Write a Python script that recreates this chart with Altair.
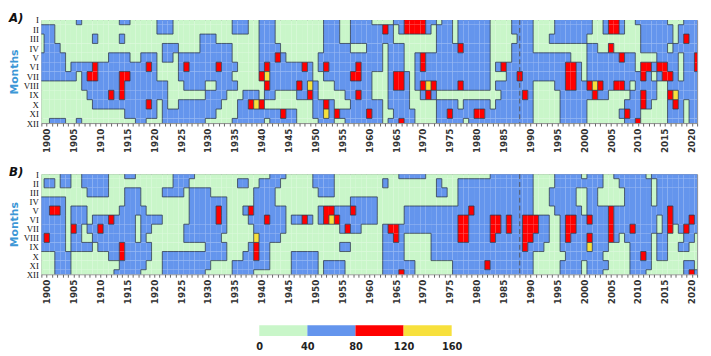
import altair as alt
import pandas as pd

YEAR_START, YEAR_END = 1899, 2021
MONTHS = ["I", "II", "III", "IV", "V", "VI", "VII", "VIII", "IX", "X", "XI", "XII"]
LEVEL_COLORS = ["#c9f6c9", "#6495ed", "#ff0000", "#f7e03c"]
LEGEND_BREAKS = [0, 40, 80, 120, 160]
CHANGE_YEAR = 1988

# ---- Panel A: class segments per month (I..XII), (first year, last year)
A_BLUE = [
    [(1906, 1906), (1914, 1915), (1921, 1923), (1935, 1937), (1940, 1942), (1952, 1954), (1957, 1960), (1965, 1972), (1974, 1975), (1977, 1982), (1987, 1990), (1995, 2001), (2004, 2007), (2010, 2015), (2019, 2021)],
    [(1899, 1901), (1921, 1923), (1935, 1937), (1940, 1942), (1952, 1954), (1957, 1964), (1966, 1971), (1973, 1975), (1977, 1982), (1987, 1990), (1995, 2001), (2004, 2007), (2011, 2016), (2018, 2021)],
    [(1900, 1901), (1909, 1909), (1914, 1914), (1929, 1931), (1940, 1942), (1952, 1954), (1957, 1964), (1973, 1975), (1977, 1982), (1988, 1990), (1994, 2000), (2011, 2016), (2018, 2021)],
    [(1900, 1902), (1922, 1924), (1929, 1934), (1940, 1943), (1952, 1956), (1960, 1962), (1964, 1966), (1973, 1982), (1987, 1990), (2001, 2002), (2011, 2015), (2017, 2021)],
    [(1899, 1903), (1912, 1915), (1918, 1920), (1922, 1923), (1925, 1934), (1940, 1944), (1951, 1962), (1964, 1966), (1969, 1982), (1987, 1997), (2001, 2009), (2014, 2017), (2019, 2021)],
    [(1899, 1903), (1905, 1906), (1907, 1920), (1925, 1935), (1940, 1945), (1946, 1949), (1951, 1962), (1964, 1966), (1969, 1982), (1984, 1999), (2001, 2009), (2011, 2017), (2019, 2021)],
    [(1899, 1905), (1907, 1920), (1925, 1934), (1940, 1949), (1952, 1960), (1964, 1967), (1969, 1982), (1986, 1999), (2001, 2012), (2014, 2017), (2019, 2021)],
    [(1907, 1922), (1926, 1929), (1932, 1935), (1941, 1950), (1954, 1960), (1964, 1967), (1969, 1982), (1984, 1990), (1995, 2008), (2010, 2013), (2016, 2021)],
    [(1908, 1922), (1930, 1933), (1937, 1939), (1941, 1942), (1947, 1950), (1956, 1960), (1964, 1967), (1970, 1972), (1985, 1990), (1996, 2004), (2009, 2013), (2016, 2021)],
    [(1909, 1920), (1922, 1922), (1925, 1932), (1936, 1940), (1950, 1953), (1957, 1962), (1964, 1967), (1973, 1976), (1978, 1982), (1984, 1990), (1996, 2000), (2008, 2012), (2016, 2018), (2020, 2021)],
    [(1915, 1920), (1922, 1931), (1936, 1946), (1950, 1962), (1965, 1968), (1973, 1977), (1978, 1990), (1996, 2000), (2007, 2010), (2016, 2018), (2020, 2021)],
    [(1901, 1903), (1906, 1906), (1917, 1918), (1922, 1929), (1935, 1940), (1942, 1946), (1951, 1953), (1956, 1962), (1964, 1968), (1973, 1977), (1979, 1990), (1996, 2000), (2008, 2010), (2016, 2018), (2020, 2021)],
]
A_RED = [
    [(1967, 1970), (2005, 2006)],
    [(1963, 1963), (1967, 1970), (2005, 2006)],
    [(2019, 2019)],
    [(1977, 1977), (2005, 2005)],
    [(1943, 1943), (1970, 1970), (2007, 2007), (2021, 2021)],
    [(1909, 1909), (1919, 1919), (1926, 1926), (1932, 1932), (1941, 1941), (1948, 1948), (1952, 1952), (1958, 1958), (1970, 1970), (1985, 1985), (1997, 1998), (2011, 2012), (2014, 2015), (2021, 2021)],
    [(1908, 1909), (1914, 1915), (1940, 1941), (1957, 1958), (1965, 1966), (1988, 1988), (1997, 1998), (2011, 2011), (2015, 2016)],
    [(1914, 1914), (1941, 1941), (1947, 1947), (1949, 1949), (1965, 1966), (1970, 1972), (1977, 1977), (1997, 1998), (2001, 2003), (2006, 2007)],
    [(1912, 1912), (1914, 1914), (1949, 1949), (1958, 1958), (1971, 1971), (1989, 1989), (2002, 2002), (2011, 2011), (2016, 2017)],
    [(1919, 1919), (1938, 1938), (1940, 1940), (1952, 1952), (2011, 2011), (2017, 2017)],
    [(1944, 1944), (1952, 1952), (1954, 1954), (1960, 1960), (1975, 1975), (1980, 1981), (2008, 2008)],
    [(1966, 1966), (2010, 2010)],
]
A_YELLOW = [
    [], [], [], [], [], [],
    [(1941, 1941)],
    [(1949, 1949), (1971, 1971), (2002, 2002)],
    [(2017, 2017)],
    [(1939, 1939)],
    [(1952, 1952)],
    [],
]

# ---- Panel B
B_BLUE = [
    [(1903, 1904), (1907, 1911), (1915, 1916), (1924, 1927), (1942, 1944), (1950, 1953), (1966, 1970), (1983, 1990), (1995, 1999), (2001, 2003), (2006, 2011), (2013, 2021)],
    [(1900, 1901), (1903, 1904), (1907, 1911), (1924, 1926), (1936, 1937), (1940, 1943), (1950, 1953), (1963, 1963), (1973, 1973), (1977, 1990), (1995, 2000), (2001, 2003), (2007, 2012), (2014, 2021)],
    [(1908, 1911), (1915, 1917), (1922, 1925), (1927, 1930), (1939, 1942), (1951, 1953), (1973, 1974), (1977, 1990), (1994, 1998), (2001, 2002), (2008, 2012), (2014, 2021)],
    [(1899, 1903), (1915, 1917), (1927, 1933), (1939, 1942), (1957, 1961), (1977, 1990), (1994, 1998), (2001, 2002), (2008, 2012), (2014, 2021)],
    [(1899, 1903), (1905, 1907), (1914, 1918), (1927, 1933), (1937, 1944), (1951, 1961), (1967, 1990), (1995, 1999), (2001, 2007), (2008, 2013), (2014, 2021)],
    [(1899, 1903), (1905, 1907), (1909, 1916), (1918, 1921), (1927, 1933), (1938, 1944), (1946, 1949), (1951, 1961), (1967, 1993), (1996, 2007), (2008, 2013), (2015, 2021)],
    [(1899, 1903), (1905, 1906), (1908, 1916), (1918, 1919), (1926, 1933), (1939, 1944), (1955, 1958), (1963, 1993), (1996, 2007), (2008, 2013), (2015, 2016), (2018, 2021)],
    [(1899, 1903), (1905, 1906), (1909, 1916), (1918, 1918), (1926, 1932), (1939, 1943), (1963, 1966), (1972, 1993), (1996, 2006), (2008, 2012), (2014, 2015), (2019, 2020)],
    [(1899, 1903), (1905, 1908), (1910, 1919), (1930, 1933), (1938, 1941), (1955, 1956), (1963, 1966), (1972, 1992), (1996, 2004), (2009, 2012), (2014, 2015), (2018, 2019)],
    [(1902, 1904), (1912, 1919), (1922, 1933), (1937, 1941), (1946, 1950), (1963, 1966), (1972, 1990), (1997, 2003), (2009, 2012), (2014, 2015)],
    [(1902, 1904), (1914, 1918), (1922, 1930), (1935, 1941), (1946, 1950), (1952, 1955), (1963, 1968), (1976, 1990), (1996, 1999), (2001, 2004), (2009, 2012), (2019, 2020)],
    [(1902, 1904), (1913, 1917), (1922, 1929), (1935, 1938), (1946, 1950), (1952, 1955), (1963, 1968), (1976, 1990), (1996, 1999), (2001, 2003), (2009, 2011), (2019, 2021)],
]
B_RED = [
    [], [], [], [],
    [(1901, 1902), (1932, 1932), (1938, 1938), (1952, 1953), (1957, 1957), (1979, 1979), (2005, 2005), (2016, 2016)],
    [(1912, 1912), (1932, 1932), (1941, 1941), (1948, 1948), (1952, 1954), (1977, 1978), (1983, 1984), (1986, 1986), (1989, 1991), (1997, 1998), (2001, 2001), (2005, 2005), (2016, 2016), (2020, 2020)],
    [(1905, 1905), (1910, 1910), (1956, 1956), (1964, 1965), (1977, 1978), (1983, 1984), (1986, 1986), (1989, 1991), (1997, 1998), (2005, 2005), (2009, 2009), (2016, 2016), (2019, 2019)],
    [(1900, 1900), (1965, 1965), (1977, 1978), (1983, 1983), (1989, 1990), (1997, 1997), (2001, 2001), (2005, 2005)],
    [(1914, 1914), (1939, 1939), (1989, 1989)],
    [(1914, 1914), (1939, 1939), (2011, 2011)],
    [(1982, 1982)],
    [(1966, 1966), (2020, 2020)],
]
B_YELLOW = [
    [], [], [], [], [],
    [(1953, 1953)],
    [],
    [(1939, 1939)],
    [(2001, 2001)],
    [], [], [],
]


def level_grid(blue, red, yellow):
    grid = []
    for mi in range(12):
        row = []
        for yr in range(YEAR_START, YEAR_END + 1):
            lvl = 0
            for lev, segs in ((1, blue[mi]), (2, red[mi]), (3, yellow[mi])):
                for a, b in segs:
                    if a <= yr <= b:
                        lvl = lev
            row.append(lvl)
        grid.append(row)
    return grid


def cells_df(grid):
    rows = []
    for mi, row in enumerate(grid):
        for i, lvl in enumerate(row):
            yr = YEAR_START + i
            rows.append({"x0": yr - 0.5, "x1": yr + 0.5,
                         "y0": mi + 0.5, "y1": mi + 1.5, "level": lvl})
    return pd.DataFrame(rows)


def edges_df(grid):
    # boundaries between neighbouring cells of different class (contour lines)
    rows = []
    n = len(grid[0])
    for mi in range(12):
        for i in range(n):
            yr = YEAR_START + i
            if i + 1 < n and grid[mi][i] != grid[mi][i + 1]:
                rows.append({"x0": yr + 0.5, "x1": yr + 0.5, "y0": mi + 0.5, "y1": mi + 1.5})
            if mi + 1 < 12 and grid[mi][i] != grid[mi + 1][i]:
                rows.append({"x0": yr - 0.5, "x1": yr + 0.5, "y0": mi + 1.5, "y1": mi + 1.5})
    return pd.DataFrame(rows)


W = 668
ROMAN_EXPR = "[" + ",".join("'%s'" % m for m in MONTHS) + "][datum.value - 1]"
color_scale = alt.Scale(domain=[0, 1, 2, 3], range=LEVEL_COLORS)

X_AXIS = alt.Axis(values=list(range(YEAR_START, YEAR_END + 1)), format="d",
                  labelExpr="datum.value % 5 == 0 ? datum.label : ''",
                  labelAngle=270, labelFont="DejaVu Sans", labelFontWeight="bold",
                  labelFontSize=9, labelColor="#333333", tickSize=3,
                  tickColor="#666666", domain=False, grid=False,
                  labelPadding=2, labelOverlap=False, labelBound=False)
Y_AXIS = alt.Axis(values=list(range(1, 13)), labelExpr=ROMAN_EXPR,
                  labelFont="Liberation Serif", labelFontSize=9,
                  labelColor="#111111", ticks=False, domain=False, grid=False,
                  labelPadding=3, labelOverlap=False, labelBound=False,
                  titleFont="DejaVu Sans", titleFontWeight="bold",
                  titleFontSize=11, titleColor="#3d97d6", titlePadding=4)


def panel(grid, tag, h):
    xscale = alt.Scale(domain=[YEAR_START, YEAR_END], nice=False, zero=False)
    yscale = alt.Scale(domain=[1, 12], reverse=True, nice=False, zero=False)
    xenc = alt.X("x0:Q", scale=xscale, title=None, axis=X_AXIS)
    yenc = alt.Y("y0:Q", scale=yscale, title="Months", axis=Y_AXIS)
    cells = alt.Chart(cells_df(grid)).mark_rect(clip=True, strokeWidth=0).encode(
        x=xenc, x2="x1:Q", y=yenc, y2="y1:Q",
        color=alt.Color("level:O", scale=color_scale, legend=None),
    )
    lines = alt.Chart(edges_df(grid)).mark_rule(
        clip=True, color="#2c3a4e", strokeWidth=1, opacity=0.8
    ).encode(x=xenc, x2="x1:Q", y=yenc, y2="y1:Q")
    rule = alt.Chart(pd.DataFrame({"x0": [CHANGE_YEAR]})).mark_rule(
        strokeDash=[5, 3], color="#555555", strokeWidth=1
    ).encode(x=xenc)
    label = alt.Chart(pd.DataFrame({"t": [tag]})).mark_text(
        align="left", baseline="middle", fontSize=12, fontWeight="bold",
        fontStyle="italic", font="DejaVu Sans", color="#111111"
    ).encode(text="t:N", x=alt.value(-33), y=alt.value(-2))
    return alt.layer(cells, lines, rule, label).properties(width=W, height=h)


pa = panel(level_grid(A_BLUE, A_RED, A_YELLOW), "A)", 105)
pb = panel(level_grid(B_BLUE, B_RED, B_YELLOW), "B)", 102)

leg_df = pd.DataFrame({"lo": LEGEND_BREAKS[:-1], "hi": LEGEND_BREAKS[1:], "level": [0, 1, 2, 3]})
legend = alt.Chart(leg_df).mark_rect().encode(
    x=alt.X("lo:Q", title=None,
            scale=alt.Scale(domain=[-181.2, 364.1], nice=False, zero=False),
            axis=alt.Axis(values=LEGEND_BREAKS, ticks=False, domain=False, grid=False,
                          labelFontWeight="bold", labelFontSize=10, labelFont="DejaVu Sans",
                          labelColor="#222222", labelPadding=6, labelFlush=False)),
    x2="hi:Q",
    color=alt.Color("level:O", scale=color_scale, legend=None),
).properties(width=W, height=11, view=alt.ViewBackground(stroke="transparent"))

chart = alt.vconcat(
    alt.vconcat(pa, pb, spacing=12),
    legend,
    spacing=20,
).properties(
    padding={"left": 0, "top": 0, "right": 0, "bottom": 0},
    background="white",
).configure_view(stroke="#8a8a8a")

chart.save("out.html", embed_options={"renderer": "svg", "actions": False})
